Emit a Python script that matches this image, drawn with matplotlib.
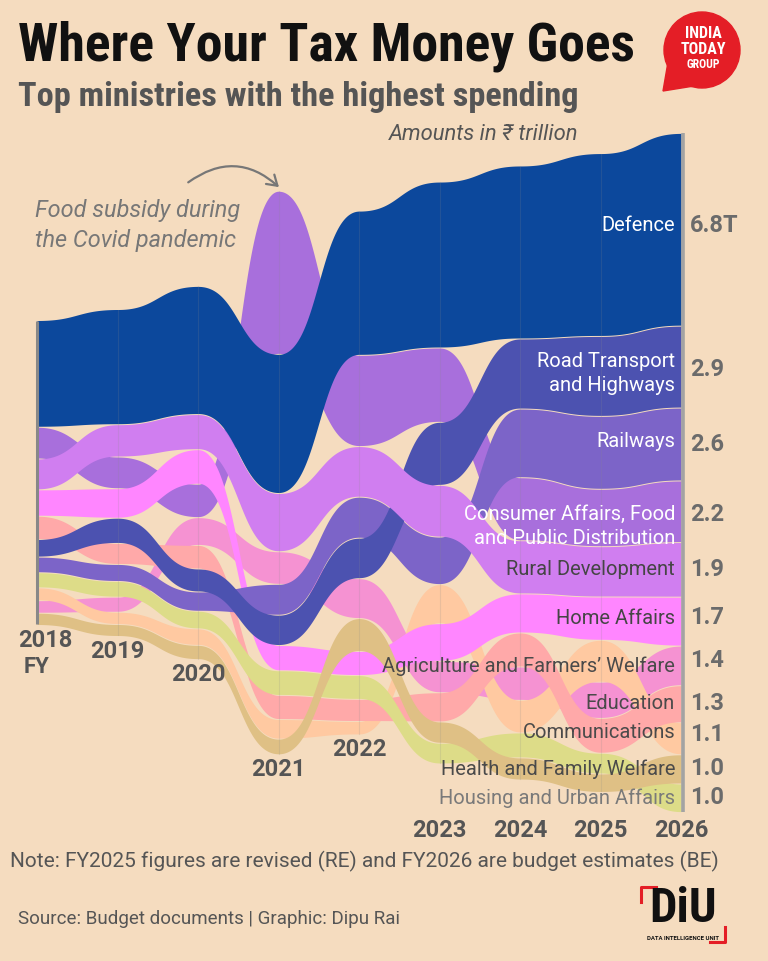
import numpy as np
import matplotlib
matplotlib.use("Agg")
import matplotlib.pyplot as plt
from matplotlib import font_manager as fm
from matplotlib.patches import FancyArrowPatch, Ellipse, Polygon
from matplotlib.lines import Line2D

# ---------------- data (₹ trillion) ----------------
years = [2018, 2019, 2020, 2021, 2022, 2023, 2024, 2025, 2026]

defence   = [3.75, 4.05, 4.51, 4.90, 5.08, 5.85, 6.10, 6.45, 6.80]
road      = [0.59, 0.86, 0.78, 1.04, 1.40, 2.20, 2.45, 2.80, 2.87]
railways  = [0.52, 0.57, 0.65, 1.06, 1.42, 1.65, 2.40, 2.55, 2.55]
consumer  = [1.09, 1.09, 1.15, 5.75, 3.20, 2.60, 2.20, 2.00, 2.15]
rural     = [1.06, 1.11, 1.21, 2.03, 1.76, 1.80, 1.85, 1.75, 1.90]
home      = [0.90, 1.01, 1.19, 0.86, 0.82, 1.30, 1.35, 1.50, 1.70]
agri      = [0.41, 0.50, 0.95, 1.12, 1.38, 1.08, 1.15, 1.25, 1.37]
education = [0.79, 0.71, 0.80, 0.82, 0.75, 1.00, 1.17, 1.20, 1.28]
comms     = [0.42, 0.40, 0.55, 0.66, 0.44, 1.35, 1.12, 1.45, 1.10]
health    = [0.50, 0.52, 0.59, 0.84, 0.81, 0.70, 0.85, 0.70, 0.98]
housing   = [0.40, 0.39, 0.47, 0.52, 1.13, 0.72, 0.75, 0.62, 1.00]

ministries = ["Defence", "Road Transport and Highways", "Railways",
              "Consumer Affairs, Food and Public Distribution",
              "Rural Development", "Home Affairs",
              "Agriculture and Farmers' Welfare", "Education",
              "Communications", "Health and Family Welfare",
              "Housing and Urban Affairs"]
series = [defence, road, railways, consumer, rural, home, agri,
          education, comms, health, housing]

# end labels as shown (top to bottom at FY2026)
end_labels = ["Defence", "Road Transport\nand Highways", "Railways",
              "Consumer Affairs, Food\nand Public Distribution",
              "Rural Development", "Home Affairs",
              "Agriculture and Farmers\u2019 Welfare", "Education",
              "Communications", "Health and Family Welfare",
              "Housing and Urban Affairs"]
end_values = ["6.8T", "2.9", "2.6", "2.2", "1.9", "1.7", "1.4", "1.3",
              "1.1", "1.0", "1.0"]

# ---------------- styles ----------------
colors = ["#0c489c", "#4c52b0", "#7c64c8", "#a86fdc", "#d07ef0", "#ff86ff",
          "#f592d2", "#ffa9a9", "#ffc9a1", "#dddc88", "#dfc085"]
label_colors = ["white", "white", "white", "white", "#454545", "#454545",
                "#4a4a4a", "#4a4a4a", "#4a4a4a", "#4a4a4a", "#7a7a7a"]
label_nudge_px = [-4, 7, -3, 15, 0, -3, 1, 0, -6, 0, 0]
value_nudge_px = [-4, 3, 0, 3, 0, -4, -5, 0, -4, 0, 0]
BG = "#f5dcbf"
W, H = 768, 961
PX_YEAR = 80.5
X0PX = 37.0
PPT = 28.2
Y0PX = 472.5

plt.rcParams["font.family"] = ["Roboto", "DejaVu Sans"]


def find_condensed_bold():
    cands = []
    for f in fm.fontManager.ttflist:
        nm = f.fname.lower().replace(" ", "").replace("_", "")
        if ("condensed" in nm or "narrow" in nm) and "bold" in nm \
                and "italic" not in nm and "extra" not in nm \
                and "semi" not in nm and "ultra" not in nm:
            cands.append(f.fname)
    for key in ["robotocondensed", "notosans", "liberationsansnarrow",
                "opensans", ""]:
        for c in cands:
            if key in c.lower().replace("-", "").replace(" ", ""):
                return fm.FontProperties(fname=c)
    return fm.FontProperties(family=["Roboto", "DejaVu Sans"], weight="bold")


COND = find_condensed_bold()

fig = plt.figure(figsize=(W / 100, H / 100), dpi=100, facecolor=BG)
ax = fig.add_axes([0, 0, 1, 1])
ax.set_facecolor(BG)
xmin = years[0] - X0PX / PX_YEAR
ax.set_xlim(xmin, xmin + W / PX_YEAR)
ax.set_ylim(-(H - Y0PX) / PPT, Y0PX / PPT)
ax.axis("off")
renderer = fig.canvas.get_renderer()


def dx(px):
    return xmin + px / PX_YEAR


def dy(py):
    return (Y0PX - py) / PPT


def fx(px):
    return px / W


def fy(py):
    return 1 - py / H


def fit_width(txt, target_px):
    bb = txt.get_window_extent(renderer)
    if bb.width > 0:
        txt.set_fontsize(txt.get_fontsize() * target_px / bb.width)


# ---------------- stacking (centred, ranked) ----------------
vals = np.array(series, dtype=float)
n, m = vals.shape
pad = 0.035
tops = np.zeros((n, m))
bots = np.zeros((n, m))
ranks = []
for j in range(m):
    order = np.argsort(-vals[:, j], kind="stable")
    ranks.append(order)
    total = vals[:, j].sum() + pad * (n - 1)
    y = total / 2
    for i in order:
        tops[i, j] = y
        bots[i, j] = y - vals[i, j]
        y = bots[i, j] - pad

# bump curve (horizontal tangents at each year)
t = np.linspace(0, 1, 80)
sx = 1.5 * t * (1 - t) + t ** 3
sy = 3 * t ** 2 - 2 * t ** 3


def bump(xs, ys):
    X, Y = [], []
    for k in range(len(xs) - 1):
        X.append(xs[k] + (xs[k + 1] - xs[k]) * sx)
        Y.append(ys[k] + (ys[k + 1] - ys[k]) * sy)
    return np.concatenate(X), np.concatenate(Y)


draw_order = sorted(range(n), key=lambda i: ministries[i])
for z, i in enumerate(draw_order):
    X, Yt = bump(years, tops[i])
    _, Yb = bump(years, bots[i])
    ax.fill_between(X, Yb, Yt, color=colors[i], lw=0, zorder=2 + z * 0.1)

# faint year guides
for j, yr in enumerate(years[1:-1], start=1):
    ax.plot([yr, yr], [bots[:, j].min(), tops[:, j].max()], color="#8a8a8a",
            lw=0.8, alpha=0.18, zorder=4)

# edge lines
ax.plot([years[0], years[0]], [bots[:, 0].min(), tops[:, 0].max()],
        color="#888888", lw=2.2, zorder=5, solid_capstyle="butt")
xr = years[-1] + 1.5 / PX_YEAR
ax.plot([xr, xr], [bots[:, -1].min(), tops[:, -1].max()],
        color="#a3a3a3", lw=2.6, zorder=5, solid_capstyle="butt")

# year labels
low_all = bots[:, -1].min()
for j, yr in enumerate(years):
    b = bots[:, j].min()
    ly = b - 16 / PPT if j < 5 else low_all - 19 / PPT
    xoff = 0.1 if j == 0 else 0.0
    ax.text(yr + xoff, ly, str(yr), ha="center", va="center", fontsize=17,
            fontweight="bold", color="#555555", zorder=6)
ax.text(years[0], bots[:, 0].min() - 43 / PPT, "FY", ha="center",
        va="center", fontsize=16, fontweight="bold", color="#555555", zorder=6)

# end labels
last_order = ranks[-1]
for r, i in enumerate(last_order):
    yc = (tops[i, -1] + bots[i, -1]) / 2
    ax.text(years[-1] - 6 / PX_YEAR, yc - label_nudge_px[r] / PPT,
            end_labels[r], ha="right", va="center", fontsize=14.5,
            color=label_colors[r], linespacing=1.3, zorder=7)
    ax.text(years[-1] + 9 / PX_YEAR, yc - value_nudge_px[r] / PPT,
            end_values[r], ha="left", va="center", fontsize=17,
            fontweight="bold", color="#6b6b6b", zorder=7)

# ---------------- titles ----------------
t1 = fig.text(fx(18), fy(46), "Where Your Tax Money Goes", ha="left",
              va="center", fontproperties=COND, color="#111111")
t1.set_fontsize(40)
fit_width(t1, 617)
t2 = fig.text(fx(18), fy(97), "Top ministries with the highest spending",
              ha="left", va="center", fontproperties=COND, color="#555555")
t2.set_fontsize(26)
fit_width(t2, 562)
fig.text(fx(578), fy(134), "Amounts in \u20b9 trillion", ha="right",
         va="center", fontsize=15.8, style="italic", color="#555555")

# annotation
fig.text(fx(35), fy(210), "Food subsidy during", ha="left", va="center",
         fontsize=16.9, style="italic", color="#777777")
fig.text(fx(35), fy(240), "the Covid pandemic", ha="left", va="center",
         fontsize=16.9, style="italic", color="#777777")
arr = FancyArrowPatch((dx(186), dy(184)), (dx(281), dy(189)),
                      connectionstyle="arc3,rad=-0.42",
                      arrowstyle="->,head_length=7,head_width=4.5",
                      color="#777777", lw=1.6, zorder=8)
ax.add_patch(arr)

# ---------------- footer ----------------
fig.text(fx(10), fy(861), "Note: FY2025 figures are revised (RE) and FY2026 are "
         "budget estimates (BE)", ha="left", va="center", fontsize=15,
         color="#555555")
fig.text(fx(18), fy(919), "Source: Budget documents | Graphic: Dipu Rai",
         ha="left", va="center", fontsize=13.5, color="#555555")

# India Today Group logo (approximate)
R = 38
ax.add_patch(Ellipse((dx(702), dy(50)), 2 * R / PX_YEAR, 2 * R / PPT,
                     color="#e41e26", zorder=9))
ax.add_patch(Polygon([(dx(668), dy(62)), (dx(663), dy(91)), (dx(694), dy(86))],
                     closed=True, color="#e41e26", zorder=9))
for txt, yy, fs in [("INDIA", 34, 11.5), ("TODAY", 50, 11.5), ("GROUP", 64, 8.5)]:
    fig.text(fx(703), fy(yy), txt, ha="center", va="center", fontsize=fs,
             fontproperties=COND, color="white", zorder=10)

# DIU logo (approximate)
fig.text(fx(683), fy(909), "DiU", ha="center", va="center",
         fontproperties=COND, fontsize=35, color="#111111")
fig.text(fx(683), fy(938), "DATA INTELLIGENCE UNIT", ha="center",
         va="center", fontsize=4.3, fontweight="bold", color="#111111")
ax.add_line(Line2D([dx(641), dx(641), dx(656)], [dy(902), dy(887), dy(887)],
                   color="#e41e26", lw=2.2, zorder=9))
ax.add_line(Line2D([dx(710), dx(725), dx(725)], [dy(942), dy(942), dy(927)],
                   color="#e41e26", lw=2.2, zorder=9))

fig.savefig("out.png", dpi=100, facecolor=BG)
